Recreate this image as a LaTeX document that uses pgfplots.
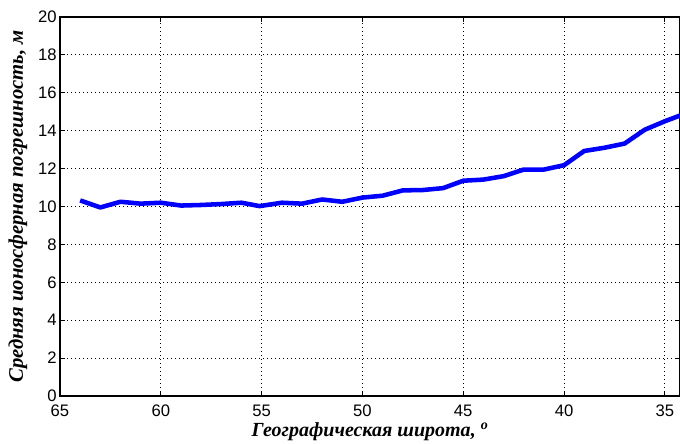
\documentclass[border=0pt]{standalone}
\usepackage{pgfplots}
\pgfplotsset{compat=1.18}
\usepackage{fontspec}
\setmainfont{Liberation Sans}
\newfontfamily\tnr{Liberation Serif}
\begin{document}
\begin{tikzpicture}[x=0.75pt,y=0.75pt]
\begin{axis}[
  at={(0,0)}, anchor=south west,
  scale only axis,
  width=465pt, height=284.25pt,
  x dir=reverse,
  xmin=34.25, xmax=65,
  ymin=0, ymax=20,
  xtick={35,40,45,50,55,60,65},
  ytick={0,2,...,20},
  tick align=inside,
  major tick length=3.5pt,
  grid=major,
  major grid style={black, line width=0.6pt, dash pattern=on 0.75pt off 2.25pt},
  axis line style={black, line width=0.8pt},
  tick style={black, line width=0.6pt},
  tick label style={font=\fontsize{12.5}{13}\selectfont},
  /pgf/number format/assume math mode=true,
  xticklabel style={yshift=-3pt},
  yticklabel style={xshift=1pt},
  xlabel={\tnr\bfseries\itshape Географическая широта, \textsuperscript{o}},
  ylabel={\tnr\bfseries\itshape Средняя ионосферная погрешность, м},
  xlabel style={font=\fontsize{15}{16}\selectfont, at={(axis description cs:0.5,0)}, anchor=base, yshift=-30pt},
  ylabel style={font=\fontsize{15.5}{16}\selectfont, at={(axis description cs:0,0.5)}, anchor=center, yshift=31.5pt},
  clip=false,
]
\addplot[blue, line width=3.4pt, line join=round] coordinates {
(64,10.32) (63,9.95) (62,10.25) (61,10.15) (60,10.2) (59,10.05) (58,10.08)
(57,10.13) (56,10.2) (55.1,10.02) (54,10.2) (53,10.15) (52,10.37) (51,10.25)
(50,10.47) (49,10.57) (48,10.85) (47,10.87) (46,10.97) (45,11.36) (44,11.42)
(43,11.6) (42,11.95) (41,11.95) (40,12.18) (39,12.93) (38,13.1) (37,13.32)
(36,14.05) (35,14.5) (34.25,14.8)
};
\end{axis}
\pgfresetboundingbox
\useasboundingbox (-45pt,-35.25pt) rectangle (465pt,297pt);
\end{tikzpicture}
\end{document}
